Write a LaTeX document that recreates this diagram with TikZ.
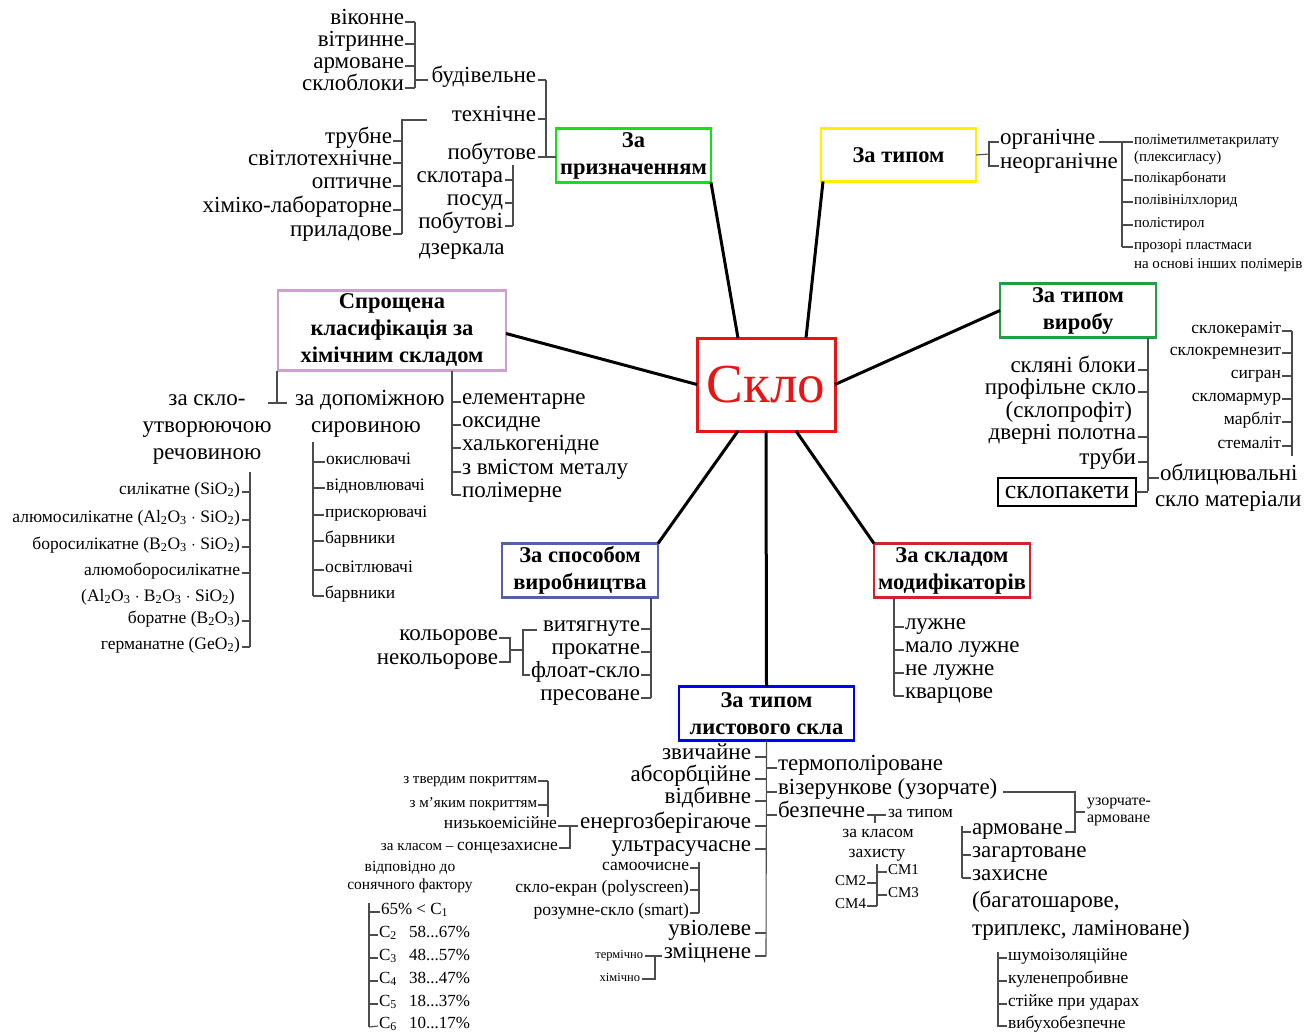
\documentclass[tikz,border=0pt]{standalone}
\usepackage{fontspec}
\usepackage{xcolor}
\setmainfont{Liberation Serif}
\newcommand\subx[1]{\textsubscript{#1}}
\definecolor{cgreenA}{RGB}{20,225,20}
\definecolor{cyel}{RGB}{255,240,0}
\definecolor{cgreenB}{RGB}{30,160,70}
\definecolor{cpink}{RGB}{205,160,205}
\definecolor{cpurp}{RGB}{85,95,175}
\definecolor{cred}{RGB}{235,20,20}
\definecolor{credB}{RGB}{210,35,45}
\definecolor{cblue}{RGB}{0,0,250}
\begin{document}
\begin{tikzpicture}[x=1pt,y=-1pt,
  every node/.style={inner sep=0pt,outer sep=0pt},
  tl/.style={font=\fontsize{23}{27}\selectfont},
  tm/.style={font=\fontsize{17.5}{19}\selectfont},
  ts/.style={font=\fontsize{15}{17}\selectfont},
  te/.style={anchor=mid east},
  tw/.style={anchor=mid west},
  cat/.style={draw,line width=2.6pt,font=\bfseries\fontsize{22.5}{27}\selectfont,align=center},
  br/.style={draw=black!70,line width=1.1pt},
  spoke/.style={line width=3pt,black},
]
\useasboundingbox (0,0) rectangle (1304,1035);

% ---------- central and category boxes
\node[draw=cred,line width=3pt,minimum width=138pt,minimum height=93pt,text=cred,font=\fontsize{55}{55}\selectfont] (skl) at (766,384.5) {Скло};
\node[cat,draw=cgreenA,minimum width=155pt,minimum height=54pt] (prz) at (633.5,155.5) {За\\призначенням};
\node[cat,draw=cyel,minimum width=155pt,minimum height=53pt] (typ) at (898.5,155) {За типом};
\node[cat,draw=cgreenB,minimum width=156pt,minimum height=54pt] (vyr) at (1078,310.5) {За типом\\виробу};
\node[cat,draw=cpink,minimum width=228pt,minimum height=80pt] (chem) at (392,330.5) {Спрощена\\класифікація за\\хімічним складом};
\node[cat,draw=cpurp,minimum width=156pt,minimum height=54pt] (spos) at (580,570.5) {За способом\\виробництва};
\node[cat,draw=credB,minimum width=156pt,minimum height=54pt] (mod) at (952,570.5) {За складом\\модифікаторів};
\node[cat,draw=cblue,minimum width=175pt,minimum height=54pt] (lyst) at (766.5,713.5) {За типом\\листового скла};

% ---------- spokes
\draw[spoke] (prz.south east) -- ([xshift=-28pt]skl.north);
\draw[spoke] ([xshift=2pt]typ.south west) -- ([xshift=40pt]skl.north);
\draw[spoke] (vyr.west) -- (skl.east);
\draw[spoke] ([yshift=-3pt]chem.east) -- (skl.west);
\draw[spoke] (spos.north east) -- ([xshift=-28pt]skl.south);
\draw[spoke] (mod.north west) -- ([xshift=30pt]skl.south);
\draw[spoke] (skl.south) -- (lyst.north);

% ---------- За призначенням
\node[tl,te] (bud) at (536,80) {будівельне};
\node[tl,te] (tex) at (536,119) {технічне};
\node[tl,te] (pob) at (536,157) {побутове};
\coordinate (s1t) at (546,80); \coordinate (s1b) at (546,157);
\draw[br] (s1t) -- (s1b) -- (prz.west |- s1b);
\foreach \n in {bud,tex,pob} \draw[br] ([xshift=2pt]\n.mid east) -- (\n.mid east -| s1t);

\node[tl,te] (vik) at (404,22) {віконне};
\node[tl,te] (vit) at (404,44) {вітринне};
\node[tl,te] (arm1) at (404,66) {армоване};
\node[tl,te] (skb) at (404,88) {склоблоки};
\coordinate (s2t) at (415,22); \coordinate (s2b) at (415,88);
\draw[br] (s2t) -- (s2b);
\foreach \n in {vik,vit,arm1,skb} \draw[br] ([xshift=1pt]\n.mid east) -- (\n.mid east -| s2t);
\draw[br] (s2t |- bud.mid west) -- ([xshift=-4pt]bud.mid west);

\node[tl,te] (trub) at (392,141) {трубне};
\node[tl,te] (svit) at (392,163) {світлотехнічне};
\node[tl,te] (opt) at (392,186) {оптичне};
\node[tl,te] (khim) at (392,210) {хіміко-лабораторне};
\node[tl,te] (pryl) at (392,234) {приладове};
\coordinate (s3t) at (402,120); \coordinate (s3b) at (402,234);
\draw[br] ([xshift=25pt]s3t) -- (s3t) -- (s3b);
\foreach \n in {trub,svit,opt,khim,pryl} \draw[br] ([xshift=1pt]\n.mid east) -- (\n.mid east -| s3t);

\node[tl,te] (sklt) at (503,180) {склотара};
\node[tl,te] (posud) at (503,203) {посуд};
\node[tl,te] (pobd) at (503,226) {побутові};
\node[tl,tw] (dzer) at (419,252) {дзеркала};
\coordinate (s4t) at (513,165); \coordinate (s4b) at (513,226);
\draw[br] (s4t) -- (s4b);
\foreach \n in {sklt,posud,pobd} \draw[br] ([xshift=2pt]\n.mid east) -- (\n.mid east -| s4t);

% ---------- За типом
\coordinate (s5) at (989,154);
\node[tl,tw] (org) at (1000,142) {органічне};
\node[tl,tw] (norg) at (1000,166) {неорганічне};
\draw[br] (typ.east) -- (s5);
\draw[br] ([xshift=-1pt]org.mid west) -- (s5 |- org.mid west) -- (s5 |- norg.mid west) -- ([xshift=-1pt]norg.mid west);
\coordinate (s6t) at (1122,142); \coordinate (s6b) at (1122,247);
\draw[br] ([xshift=4pt]org.mid east) -- (org.mid east -| s6t);
\draw[br] (s6t) -- (s6b);
\node[ts,tw] (pmm) at (1134,142) {поліметилметакрилату};
\node[ts,tw] (plx) at (1134,159) {(плексигласу)};
\node[ts,tw] (pkb) at (1134,180) {полікарбонати};
\node[ts,tw] (pvh) at (1134,202) {полівінілхлорид};
\node[ts,tw] (pst) at (1134,225) {полістирол};
\node[ts,tw] (prpl) at (1134,247) {прозорі пластмаси};
\node[ts,tw] (nao) at (1134,266) {на основі інших полімерів};
\foreach \n in {pmm,pkb,pvh,pst,prpl} \draw[br] (s6t |- \n.mid west) -- ([xshift=-1pt]\n.mid west);

% ---------- За типом виробу
\coordinate (s7b) at (1148,491);
\draw[br] (vyr.south -| s7b) -- (s7b);
\node[tl,te] (skbl) at (1136,370) {скляні блоки};
\node[tl,te] (prof) at (1136,392) {профільне скло};
\node[tl,te] (sprof) at (1132,415) {(склопрофіт)};
\node[tl,te] (dver) at (1136,437) {дверні полотна};
\node[tl,te] (trb) at (1136,462) {труби};
\foreach \n in {skbl,prof,dver,trb} \draw[br] ([xshift=2pt]\n.mid east) -- (\n.mid east -| s7b);
\node[draw,line width=2.6pt,font=\fontsize{26}{28}\selectfont,minimum width=138pt,minimum height=28pt] (skp) at (1067,492) {склопакети};
\draw[br] (skp.east) -- (skp.east -| s7b);
\node[tl,tw] (obl) at (1160,478) {облицювальні};
\node[tl,tw] (sklm) at (1155,504) {скло матеріали};
\draw[br] (s7b |- obl.mid west) -- ([xshift=-1pt]obl.mid west);

\node[tm,te] (sker) at (1281,331) {склокераміт};
\node[tm,te] (skrem) at (1281,353) {склокремнезит};
\node[tm,te] (sygr) at (1281,376) {сигран};
\node[tm,te] (skmar) at (1281,399) {скломармур};
\node[tm,te] (marb) at (1281,422) {марбліт};
\node[tm,te] (stem) at (1281,446) {стемаліт};
\coordinate (s12t) at (1292,331); \coordinate (s12b) at (1292,456);
\draw[br] (s12t) -- (s12b);
\foreach \n in {sker,skrem,sygr,skmar,marb,stem} \draw[br] ([xshift=1pt]\n.mid east) -- (\n.mid east -| s12t);

% ---------- Спрощена класифікація
\coordinate (cA) at (277,403);
\draw[br] (cA |- chem.south) -- (cA);
\draw[br] ([xshift=-9pt]cA) -- ([xshift=10pt]cA);
\node[tl,align=center] (zsk) at (207,430) {за скло-\\утворюючою\\речовиною};
\node[tl,tw] (zdop) at (295,403) {за допоміжною};
\node[tl] (syr) at (366,430) {сировиною};

\coordinate (s8b) at (452,495);
\draw[br] (s8b |- chem.south) -- (s8b);
\node[tl,tw] (elem) at (462,402) {елементарне};
\node[tl,tw] (oks) at (462,425) {оксидне};
\node[tl,tw] (halk) at (462,448) {халькогенідне};
\node[tl,tw] (zvm) at (462,472) {з вмістом металу};
\node[tl,tw] (polm) at (462,495) {полімерне};
\foreach \n in {elem,oks,halk,zvm,polm} \draw[br] (s8b |- \n.mid west) -- ([xshift=-1pt]\n.mid west);

\coordinate (s13t) at (313,442); \coordinate (s13b) at (313,596);
\draw[br] (s13t) -- (s13b);
\node[tm,tw] (okys) at (326,462) {окислювачі};
\node[tm,tw] (vidn) at (326,488) {відновлювачі};
\node[tm,tw] (prysk) at (325,515) {прискорювачі};
\node[tm,tw] (barv1) at (325,541) {барвники};
\node[tm,tw] (osvit) at (325,570) {освітлювачі};
\node[tm,tw] (barv2) at (325,596) {барвники};
\foreach \n in {okys,vidn,prysk,barv1,osvit,barv2} \draw[br] (s13t |- \n.mid west) -- ([xshift=-1pt]\n.mid west);

\coordinate (s14t) at (250,472); \coordinate (s14b) at (250,647);
\draw[br] (s14t) -- (s14b);
\node[tm,te] (sil) at (240,492) {силікатне (SiO\subx{2})};
\node[tm,te] (alsil) at (240,520) {алюмосилікатне (Al\subx{2}O\subx{3} $\cdot$ SiO\subx{2})};
\node[tm,te] (bsil) at (240,547) {боросилікатне (B\subx{2}O\subx{3} $\cdot$ SiO\subx{2})};
\node[tm,te] (albsil) at (240,573) {алюмоборосилікатне};
\node[tm] (alb2) at (158,597) {(Al\subx{2}O\subx{3} $\cdot$ B\subx{2}O\subx{3} $\cdot$ SiO\subx{2})};
\node[tm,te] (bor) at (240,621) {боратне (B\subx{2}O\subx{3})};
\node[tm,te] (germ) at (240,647) {германатне (GeO\subx{2})};
\foreach \n in {sil,alsil,bsil,albsil,bor,germ} \draw[br] ([xshift=2pt]\n.mid east) -- (\n.mid east -| s14t);

% ---------- За способом виробництва
\coordinate (s9b) at (651,698);
\draw[br] (spos.south -| s9b) -- (s9b);
\node[tl,te] (vyt) at (640,629) {витягнуте};
\node[tl,te] (prok) at (640,652) {прокатне};
\node[tl,te] (flo) at (640,675) {флоат-скло};
\node[tl,te] (pres) at (640,698) {пресоване};
\foreach \n in {vyt,prok,flo,pres} \draw[br] ([xshift=1pt]\n.mid east) -- (\n.mid east -| s9b);
\coordinate (s10t) at (523,630); \coordinate (s10b) at (523,675);
\draw[br] ([xshift=14pt]s10t) -- (s10t) -- (s10b) -- ([xshift=-1pt]flo.mid west);
\node[tl,te] (kol) at (498,638) {кольорове};
\node[tl,te] (nkol) at (498,662) {некольорове};
\coordinate (s15t) at (510,638); \coordinate (s15b) at (510,662);
\draw[br] ([xshift=1pt]kol.mid east) -- (kol.mid east -| s15t) -- (nkol.mid east -| s15t) -- ([xshift=1pt]nkol.mid east);
\draw[br] (510,650) coordinate (s15m) -- (s10t |- s15m);

% ---------- За складом модифікаторів
\coordinate (s16b) at (894,696);
\draw[br] (mod.south -| s16b) -- (s16b);
\node[tl,tw] (luzh) at (905,627) {лужне};
\node[tl,tw] (malo) at (905,650) {мало лужне};
\node[tl,tw] (nel) at (905,673) {не лужне};
\node[tl,tw] (kvar) at (905,696) {кварцове};
\foreach \n in {luzh,malo,nel,kvar} \draw[br] (s16b |- \n.mid west) -- ([xshift=-1pt]\n.mid west);

% ---------- За типом листового скла
\coordinate (s11b) at (766,956);
\draw[br] (lyst.south) -- (s11b);
\node[tl,te] (zvy) at (751,757) {звичайне};
\node[tl,te] (abs) at (751,779) {абсорбційне};
\node[tl,te] (vidb) at (751,801) {відбивне};
\node[tl,te] (enr) at (751,826) {енергозберігаюче};
\node[tl,te] (ults) at (751,849) {ультрасучасне};
\node[tl,te] (uvi) at (751,933) {увіолеве};
\node[tl,te] (zmi) at (751,956) {зміцнене};
\foreach \n in {zvy,abs,vidb,enr,ults,uvi,zmi} \draw[br] ([xshift=4pt]\n.mid east) -- (\n.mid east -| s11b);
\node[tl,tw] (term) at (778,768) {термополіроване};
\node[tl,tw] (vize) at (778,792) {візерункове (узорчате)};
\node[tl,tw] (bez) at (778,815) {безпечне};
\foreach \n in {term,vize,bez} \draw[br] (s11b |- \n.mid west) -- ([xshift=-1pt]\n.mid west);

% енергозберігаюче
\node[tm,te] (nize) at (557,826) {низькоемісійне};
\node[tm,te] (sonc) at (558,848) {{\fontsize{15}{17}\selectfont за класом – }сонцезахисне};
\coordinate (s17t) at (570,826); \coordinate (s17b) at (570,848);
\draw[br] ([xshift=-2pt]enr.mid west) -- (s17t) -- (s17b) -- ([xshift=1pt]sonc.mid east);
\draw[br] ([xshift=1pt]nize.mid east) -- (s17t);
\node[ts,te] (tverd) at (537,781) {з твердим покриттям};
\node[ts,te] (myak) at (537,805) {з м'яким покриттям};
\coordinate (s18t) at (548,781); \coordinate (s18b) at (548,817);
\draw[br] (s18t) -- (s18b);
\foreach \n in {tverd,myak} \draw[br] ([xshift=1pt]\n.mid east) -- (\n.mid east -| s18t);
\node[ts,align=center,font=\fontsize{15.5}{18.5}\selectfont] (vidp) at (410,877) {відповідно до\\сонячного фактору};

\coordinate (s19t) at (369,903); \coordinate (s19b) at (369,1027);
\draw[br] (s19t) -- (s19b);
\node[tw,font=\fontsize{17}{18}\selectfont] (c1) at (381,912) {65\% < C\subx{1}};
\node[tw,font=\fontsize{17}{18}\selectfont] (c2) at (379,935) {\makebox[30pt][l]{C\subx{2}}58...67\%};
\node[tw,font=\fontsize{17}{18}\selectfont] (c3) at (379,958) {\makebox[30pt][l]{C\subx{3}}48...57\%};
\node[tw,font=\fontsize{17}{18}\selectfont] (c4) at (379,981) {\makebox[30pt][l]{C\subx{4}}38...47\%};
\node[tw,font=\fontsize{17}{18}\selectfont] (c5) at (379,1004) {\makebox[30pt][l]{C\subx{5}}18...37\%};
\node[tw,font=\fontsize{17}{18}\selectfont] (c6) at (379,1026) {\makebox[30pt][l]{C\subx{6}}10...17\%};
\foreach \n in {c1,c2,c3,c4,c5} \draw[br] (s19t |- \n.mid west) -- ([xshift=-1pt]\n.mid west);
\draw[br] (s19b) -- ([xshift=-1pt]c6.mid west);

% ультрасучасне
\node[tm,te] (samo) at (689,868) {самоочисне};
\node[tm,te] (poly) at (689,890) {скло-екран (polyscreen)};
\node[tm,te] (smart) at (689,913) {розумне-скло (smart)};
\coordinate (s20t) at (699,862); \coordinate (s20b) at (699,913);
\draw[br] (s20t) -- (s20b);
\foreach \n in {samo,poly,smart} \draw[br] ([xshift=1pt]\n.mid east) -- (\n.mid east -| s20t);

% зміцнене
\node[te,font=\fontsize{12.5}{14}\selectfont] (terch) at (643,956) {термічно};
\node[te,font=\fontsize{12.5}{14}\selectfont] (khch) at (640,979) {хімічно};
\coordinate (s21t) at (655,956); \coordinate (s21b) at (655,979);
\draw[br] ([xshift=2pt]terch.mid east) -- ([xshift=-2pt]zmi.mid west);
\draw[br] (s21t) -- (s21b) -- ([xshift=2pt]khch.mid east);

% безпечне
\coordinate (s22) at (875,815);
\node[tm,tw] (zatyp) at (888,815) {за типом};
\draw[br] ([xshift=2pt]bez.mid east) -- ([xshift=-2pt]zatyp.mid west);
\draw[br] (s22) -- ++(0,8);
\node[tm] (zakl) at (878,833) {за класом};
\node[tm] (zakh) at (877,855) {захисту};
\coordinate (s23t) at (877,864); \coordinate (s23b) at (877,906);
\draw[br] (s23t) -- (s23b);
\node[tw,font=\fontsize{15}{16}\selectfont] (cm1) at (888,872) {CM1};
\node[tw,font=\fontsize{15}{16}\selectfont] (cm3) at (888,895) {CM3};
\node[te,font=\fontsize{15}{16}\selectfont] (cm2) at (866,883) {CM2};
\node[te,font=\fontsize{15}{16}\selectfont] (cm4) at (866,906) {CM4};
\foreach \n in {cm1,cm3} \draw[br] (s23t |- \n.mid west) -- ([xshift=-1pt]\n.mid west);
\foreach \n in {cm2,cm4} \draw[br] ([xshift=1pt]\n.mid east) -- (\n.mid east -| s23t);

\coordinate (s24t) at (962,826); \coordinate (s24b) at (962,878);
\draw[br] (s24t) -- (s24b);
\node[tl,tw] (arm2) at (972,832) {армоване};
\node[tl,tw] (zag) at (972,855) {загартоване};
\node[tl,tw] (zakhs) at (972,878) {захисне};
\node[tl,tw] (bag) at (972,905) {(багатошарове,};
\node[tl,tw] (trip) at (972,933) {триплекс, ламіноване)};
\foreach \n in {arm2,zag,zakhs} \draw[br] (s24t |- \n.mid west) -- ([xshift=-1pt]\n.mid west);

\coordinate (s25t) at (1075,792); \coordinate (s25b) at (1075,832);
\draw[br] ([xshift=6pt]vize.mid east) -- (s25t) -- (s25b) -- ([xshift=2pt]arm2.mid east);
\node[tw,font=\fontsize{16}{17}\selectfont] (uzor) at (1087,803) {узорчате-};
\node[tw,font=\fontsize{16}{17}\selectfont] (uzar) at (1087,820) {армоване};
\draw[br] (1075,812) coordinate (s25m) -- ([xshift=-2pt]uzor.mid west |- s25m);

\coordinate (s26t) at (998,952); \coordinate (s26b) at (998,1027);
\draw[br] (s26t) -- (s26b);
\node[tm,tw] (shum) at (1008,958) {шумоізоляційне};
\node[tm,tw] (kul) at (1008,981) {куленепробивне};
\node[tm,tw] (stiy) at (1008,1004) {стійке при ударах};
\node[tm,tw] (vyb) at (1008,1026) {вибухобезпечне};
\foreach \n in {shum,kul,stiy,vyb} \draw[br] (s26t |- \n.mid west) -- ([xshift=-1pt]\n.mid west);
\end{tikzpicture}
\end{document}
